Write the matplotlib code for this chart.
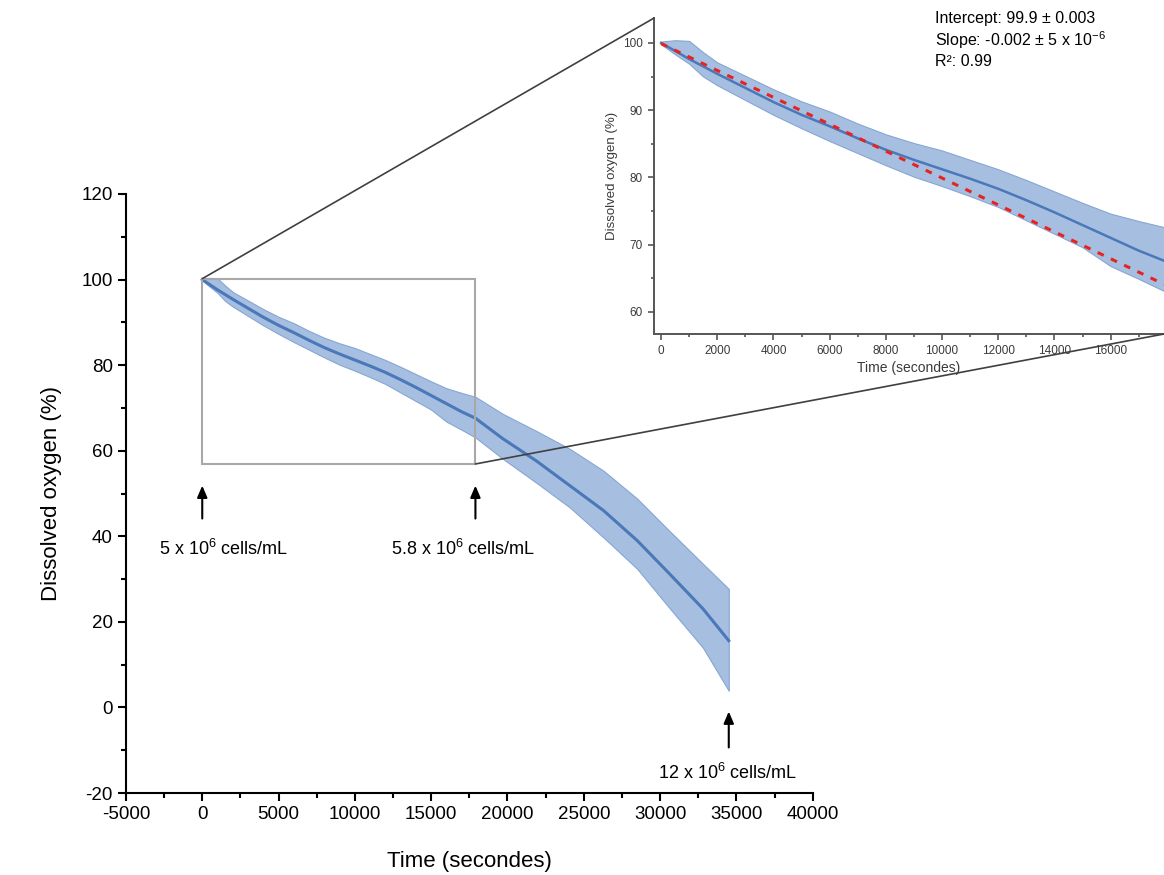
import numpy as np
import matplotlib.pyplot as plt
from matplotlib.patches import Rectangle, ConnectionPatch
from matplotlib.ticker import MultipleLocator

plt.rcParams['font.family'] = ['Liberation Sans', 'DejaVu Sans']
plt.rcParams['mathtext.default'] = 'regular'
plt.rcParams['axes.unicode_minus'] = False

# time (s), mean dissolved oxygen (%) and the +/- band
time_s = [0, 500, 1000, 1500, 2000, 3000, 4000, 5000, 6000, 7000, 8000, 9000,
          10000, 11000, 12000, 13000, 14000, 15000, 16000, 17000, 17900,
          19700, 21900, 24100, 26300, 28500, 30600, 32800, 34500]
mean_do = [100.0, 98.8, 97.6, 96.5, 95.4, 93.3, 91.2, 89.3, 87.6, 85.8, 84.1, 82.6,
           81.2, 79.8, 78.3, 76.6, 74.8, 72.9, 71.0, 69.1, 67.6,
           62.8, 57.6, 51.8, 46.0, 39.0, 31.3, 23.1, 15.6]
upper_do = [100.2, 100.4, 100.3, 98.6, 97.1, 95.1, 93.1, 91.3, 89.8, 88.0, 86.4, 85.1,
            84.0, 82.6, 81.2, 79.6, 77.9, 76.2, 74.6, 73.5, 72.6,
            68.6, 64.6, 60.4, 55.3, 48.8, 41.3, 33.6, 27.7]
lower_do = [99.8, 98.3, 96.9, 95.0, 93.7, 91.5, 89.3, 87.3, 85.4, 83.6, 81.8, 80.1,
            78.7, 77.2, 75.6, 73.6, 71.6, 69.6, 66.8, 64.9, 63.1,
            58.1, 52.5, 46.7, 39.7, 32.4, 23.3, 14.0, 3.9]

# linear fit shown in the inset
fit_intercept = 99.9
fit_slope = -0.002
fit_t = np.array([0, 17900])

# cell density markers
marker_t = [0, 17900, 34500]
marker_labels = ['5 x 10$^6$ cells/mL', '5.8 x 10$^6$ cells/mL', '12 x 10$^6$ cells/mL']

zoom_box = (0, 56.9, 17900, 100.2)  # x0, y0, x1, y1

band_col = '#a6bfe1'
edge_col = '#86a6d4'
line_col = '#4a78b8'

fig = plt.figure(figsize=(11.64, 8.75), dpi=100)

# ---- main axes
ax = fig.add_axes([0.1082, 0.0937, 0.590, 0.6846])
ax.fill_between(time_s, lower_do, upper_do, color=band_col, edgecolor=edge_col, lw=0.8, zorder=1)
ax.plot(time_s, mean_do, color=line_col, lw=2.2, zorder=2)
ax.set_xlim(-5000, 40000)
ax.set_ylim(-20, 120)
ax.xaxis.set_major_locator(MultipleLocator(5000))
ax.xaxis.set_minor_locator(MultipleLocator(2500))
ax.yaxis.set_major_locator(MultipleLocator(20))
ax.yaxis.set_minor_locator(MultipleLocator(10))
for s in ['top', 'right']:
    ax.spines[s].set_visible(False)
for s in ['left', 'bottom']:
    ax.spines[s].set_linewidth(1.5)
ax.tick_params(which='major', direction='out', length=6, width=1.5, labelsize=13.5)
ax.tick_params(which='minor', direction='out', length=3.5, width=1.5)
ax.set_xlabel('Time (secondes)', fontsize=16, labelpad=20)
ax.set_ylabel('Dissolved oxygen (%)', fontsize=16, labelpad=14)

x0, y0, x1, y1 = zoom_box
ax.add_patch(Rectangle((x0, y0), x1 - x0, y1 - y0, fill=False, ec='#a8a8a8', lw=1.5, zorder=3))

# arrows + labels
arrow_style = dict(arrowstyle='-|>,head_length=0.7,head_width=0.3', color='k', lw=1.5)
ax.annotate('', xy=(marker_t[0], 52.5), xytext=(marker_t[0], 43.5), arrowprops=arrow_style)
ax.text(marker_t[0] + 1400, 37, marker_labels[0], fontsize=13, ha='center', va='center')
ax.annotate('', xy=(marker_t[1], 52.5), xytext=(marker_t[1], 43.5), arrowprops=arrow_style)
ax.text(marker_t[1] - 800, 37, marker_labels[1], fontsize=13, ha='center', va='center')
ax.annotate('', xy=(marker_t[2], -0.3), xytext=(marker_t[2], -10), arrowprops=arrow_style)
ax.text(marker_t[2] - 100, -15.4, marker_labels[2], fontsize=13, ha='center', va='center')

# ---- inset
axi = fig.add_axes([0.5619, 0.6183, 0.4381, 0.3611])
axi.fill_between(time_s, lower_do, upper_do, color=band_col, edgecolor=edge_col, lw=0.8, zorder=1)
axi.plot(time_s, mean_do, color=line_col, lw=1.8, zorder=2)
axi.plot(fit_t, fit_intercept + fit_slope * fit_t, color='#e8231f', lw=2.2,
         dashes=(2.2, 2.6), zorder=3)
axi.set_xlim(-250, 17900)
axi.set_ylim(56.7, 103.7)
axi.xaxis.set_minor_locator(MultipleLocator(1000))
axi.yaxis.set_major_locator(MultipleLocator(10))
axi.yaxis.set_minor_locator(MultipleLocator(5))
axi.set_xticks(np.arange(0, 17000, 2000))
for s in ['top', 'right']:
    axi.spines[s].set_visible(False)
for s in ['left', 'bottom']:
    axi.spines[s].set_linewidth(1.4)
    axi.spines[s].set_color('#555555')
axi.tick_params(which='major', direction='out', length=4.5, width=1.2, labelsize=8.5,
                colors='#555555', labelcolor='#3a3a3a')
axi.tick_params(which='minor', direction='out', length=2.5, width=1.2, colors='#555555')
axi.set_xlabel('Time (secondes)', fontsize=10, color='#3a3a3a', labelpad=3)
axi.set_ylabel('Dissolved oxygen (%)', fontsize=9.5, color='#3a3a3a', labelpad=4)

fig.text(0.803, 0.988, 'Intercept: 99.9 ± 0.003\nSlope: -0.002 ± 5 x 10$^{-6}$\nR²: 0.99',
         fontsize=11.5, ha='left', va='top', linespacing=1.25)

# connector lines
for xy_main, xy_inset in [((x0, y1), (0, 1)), ((x1, y0), (1, 0))]:
    con = ConnectionPatch(xyA=xy_main, coordsA=ax.transData, xyB=xy_inset, coordsB=axi.transAxes,
                          color='#404040', lw=1.2, zorder=10)
    fig.add_artist(con)

fig.savefig('out.png', dpi=100)
